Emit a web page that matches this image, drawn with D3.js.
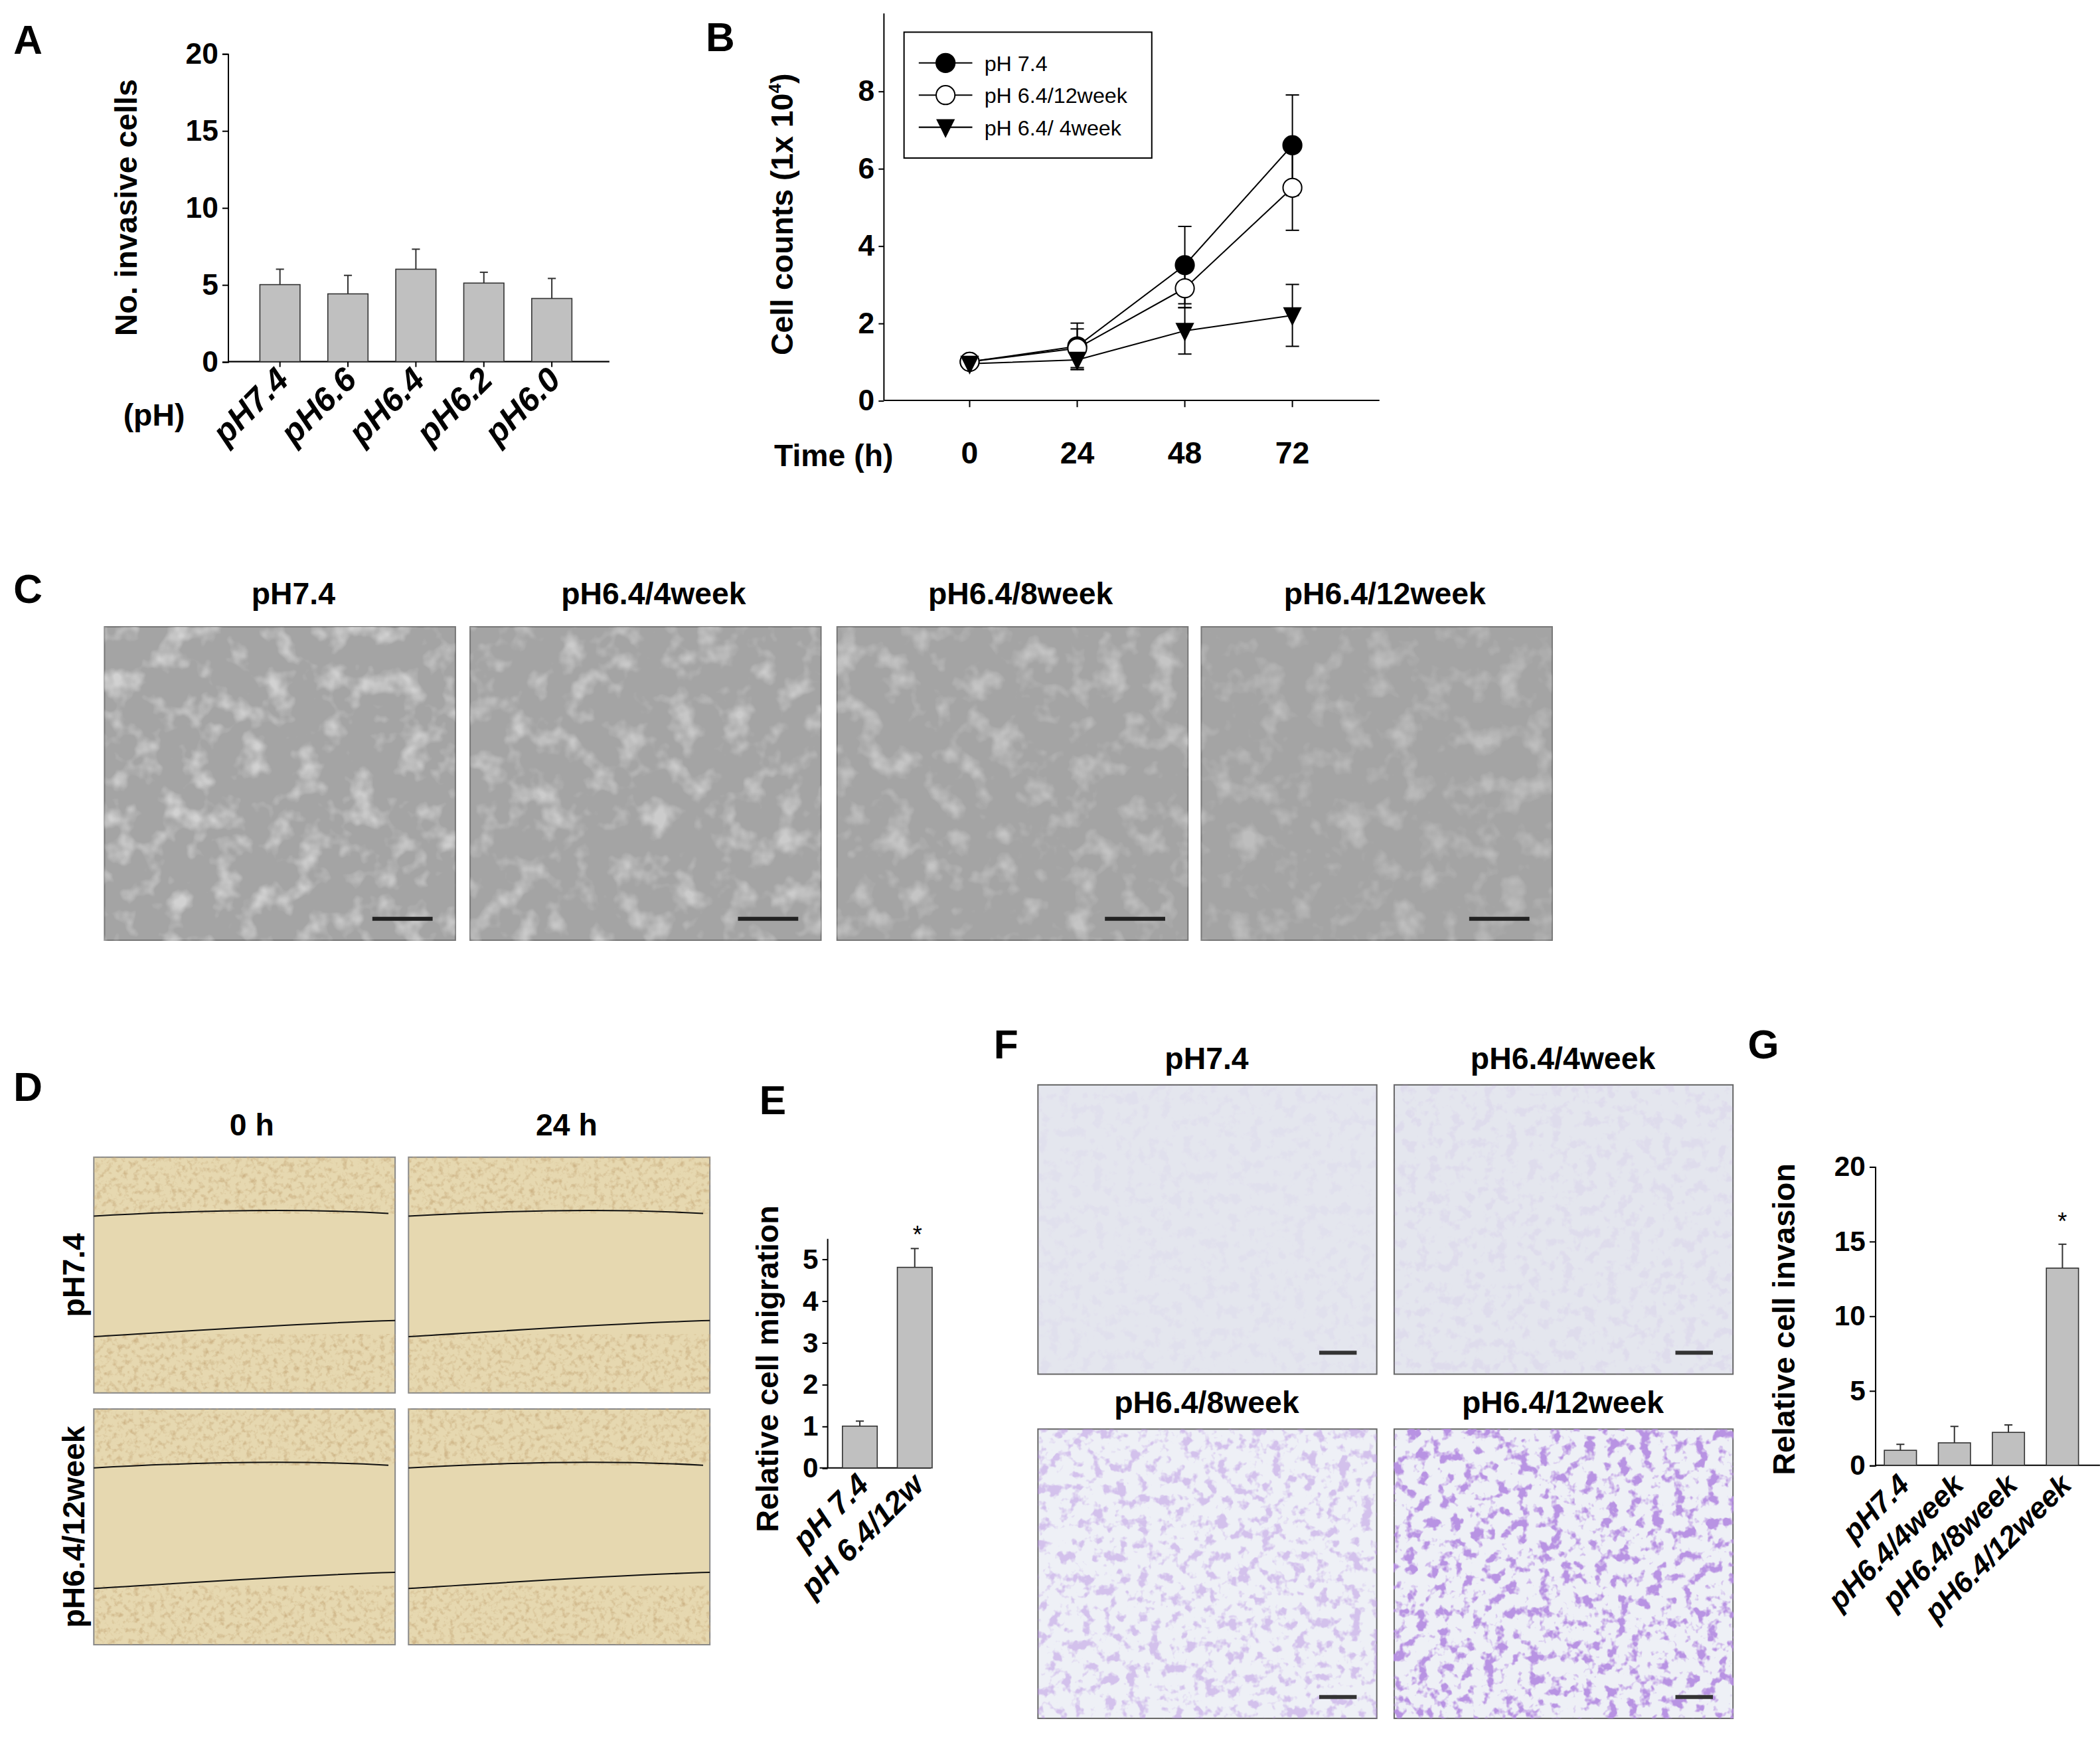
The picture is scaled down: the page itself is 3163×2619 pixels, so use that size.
<!DOCTYPE html>
<html><head><meta charset="utf-8">
<script src="https://cdn.jsdelivr.net/npm/d3@7"></script>
<style>body{margin:0;background:#fff}svg{display:block}text{font-family:"Liberation Sans",Arial,sans-serif}</style>
</head><body><script>
// Data
const aCats=["pH7.4","pH6.6","pH6.4","pH6.2","pH6.0"];
const aVals=[5.0,4.4,6.0,5.1,4.1];
const aErr=[1.0,1.2,1.3,0.7,1.3];
const aTicks=[0,5,10,15,20];
const bTimes=[0,24,48,72];
const bSeries=["pH 7.4","pH 6.4/12week","pH 6.4/ 4week"];
const b74=[1.0,1.4,3.5,6.6], b74e=[0.1,0.6,1.0,1.3];
const b12=[1.0,1.35,2.9,5.5], b12e=[0.1,0.5,0.5,1.1];
const b4=[0.95,1.05,1.8,2.2], b4e=[0.1,0.25,0.6,0.8];
const bTicks=[0,2,4,6,8];
const cTitles=["pH7.4","pH6.4/4week","pH6.4/8week","pH6.4/12week"];
const dCols=["0 h","24 h"], dRows=["pH7.4","pH6.4/12week"];
const eCats=["pH 7.4","pH 6.4/12w"], eVals=[1.0,4.8], eErr=[0.12,0.45], eTicks=[0,1,2,3,4,5];
const fTitles=["pH7.4","pH6.4/4week","pH6.4/8week","pH6.4/12week"];
const gCats=["pH7.4","pH6.4/4week","pH6.4/8week","pH6.4/12week"];
const gVals=[1.0,1.5,2.2,13.2], gErr=[0.4,1.1,0.5,1.6], gTicks=[0,5,10,15,20];

const svg=d3.select("body").append("svg").attr("width",3163).attr("height",2619).attr("viewBox","0 0 1568 1298.4");
const defs=svg.append("defs");
function noise(id,freq,seed,matrix){const f=defs.append("filter").attr("id",id).attr("x",0).attr("y",0).attr("width","100%").attr("height","100%");
 f.append("feTurbulence").attr("type","fractalNoise").attr("baseFrequency",freq).attr("numOctaves",3).attr("seed",seed);
 f.append("feColorMatrix").attr("type","matrix").attr("values",matrix);}
noise("nC",0.05,3,"0 0 0 0 0.95  0 0 0 0 0.95  0 0 0 0 0.95  0 0 0 -3 1.5");
noise("nD",0.25,5,"0 0 0 0 0.55  0 0 0 0 0.38  0 0 0 0 0.18  0 0 0 -2.5 1.3");
noise("nF",0.12,7,"0 0 0 0 0.45  0 0 0 0 0.25  0 0 0 0 0.75  0 0 0 -6 2.9");
const B="bold";
function label(t,x,y){svg.append("text").attr("x",x).attr("y",y).attr("font-size",30).attr("font-weight",B).text(t);}
function yAxis(g,y,ticks,x,fs){const ax=g.append("g").attr("transform",`translate(${x},0)`).call(d3.axisLeft(y).tickValues(ticks).tickSize(4).tickFormat(d3.format("d")));
 ax.selectAll("text").attr("font-size",fs).attr("font-weight",B).attr("font-family","Liberation Sans Narrow, Liberation Sans").attr("fill","#000");ax.select(".domain").attr("stroke","#000");ax.selectAll("line").attr("stroke","#000");return ax;}
function bars(g,x,y,cats,vals,errs,w){cats.forEach((c,i)=>{const cx=x(c);
 g.append("rect").attr("x",cx-w/2).attr("y",y(vals[i])).attr("width",w).attr("height",y(0)-y(vals[i])).attr("fill","#c0c0c0").attr("stroke","#333").attr("stroke-width",0.8);
 g.append("line").attr("x1",cx).attr("x2",cx).attr("y1",y(vals[i])).attr("y2",y(vals[i]+errs[i])).attr("stroke","#333");
 g.append("line").attr("x1",cx-3).attr("x2",cx+3).attr("y1",y(vals[i]+errs[i])).attr("y2",y(vals[i]+errs[i])).attr("stroke","#333");});}
function rotLabels(g,x,cats,y0,fs,italic){cats.forEach(c=>{g.append("text").attr("transform",`translate(${x(c)+8},${y0}) rotate(-45)`).attr("text-anchor","end").attr("font-size",fs).attr("font-weight",B).attr("font-style",italic?"italic":"normal").text(c);});}
function ylab(t,x,y,fs){svg.append("text").attr("transform",`translate(${x},${y}) rotate(-90)`).attr("text-anchor","middle").attr("font-size",fs).attr("font-weight",B).text(t);}

// Panel A
label("A",10,40);
{const g=svg.append("g");const y=d3.scaleLinear().domain([0,20]).range([270,40]);
 const x=d3.scalePoint().domain(aCats).range([209,412]);
 yAxis(g,y,aTicks,170,22);
 g.append("line").attr("x1",170).attr("x2",455).attr("y1",270).attr("y2",270).attr("stroke","#000");
 bars(g,x,y,aCats,aVals,aErr,30);
 aCats.forEach(c=>g.append("line").attr("x1",x(c)).attr("x2",x(c)).attr("y1",270).attr("y2",274).attr("stroke","#000"));
 rotLabels(g,x,aCats,285,25,true);
 g.append("text").attr("x",92).attr("y",318).attr("font-size",23).attr("font-weight",B).text("(pH)");
 ylab("No. invasive cells",102,155,23);}

// Panel B
label("B",527,38);
{const g=svg.append("g");const y=d3.scaleLinear().domain([0,8]).range([299,68]);
 const x=d3.scaleLinear().domain([0,72]).range([724,965]);
 g.append("line").attr("x1",660).attr("x2",660).attr("y1",10).attr("y2",299).attr("stroke","#000");
 yAxis(g,y,bTicks,660,22).select(".domain").remove();
 g.append("line").attr("x1",660).attr("x2",1030).attr("y1",299).attr("y2",299).attr("stroke","#000");
 bTimes.forEach(t=>{g.append("line").attr("x1",x(t)).attr("x2",x(t)).attr("y1",299).attr("y2",304).attr("stroke","#000");
  g.append("text").attr("x",x(t)).attr("y",346).attr("text-anchor","middle").attr("font-size",23).attr("font-weight",B).text(t);});
 g.append("text").attr("x",578).attr("y",348).attr("font-size",23).attr("font-weight",B).text("Time (h)");
 const series=[[b74,b74e,"filled"],[b12,b12e,"open"],[b4,b4e,"tri"]];
 const line=d3.line().x((d,i)=>x(bTimes[i])).y(d=>y(d));
 series.forEach(([v,e])=>{g.append("path").attr("d",line(v)).attr("fill","none").attr("stroke","#000").attr("stroke-width",1);
  v.forEach((d,i)=>{const cx=x(bTimes[i]);[d+e[i],d-e[i]].forEach(yy=>{g.append("line").attr("x1",cx).attr("x2",cx).attr("y1",y(d)).attr("y2",y(yy)).attr("stroke","#000");
   g.append("line").attr("x1",cx-5).attr("x2",cx+5).attr("y1",y(yy)).attr("y2",y(yy)).attr("stroke","#000");});});});
 function marker(sel,type,cx,cy){if(type==="tri")sel.append("path").attr("d",`M${cx-7},${cy-6}L${cx+7},${cy-6}L${cx},${cy+8}Z`).attr("fill","#000");
  else sel.append("circle").attr("cx",cx).attr("cy",cy).attr("r",7).attr("fill",type==="filled"?"#000":"#fff").attr("stroke","#000");}
 series.forEach(([v,,t])=>v.forEach((d,i)=>marker(g,t,x(bTimes[i]),y(d))));
 g.append("rect").attr("x",675).attr("y",24).attr("width",185).attr("height",94).attr("fill","#fff").attr("stroke","#000");
 bSeries.forEach((s,i)=>{const ly=47+i*24;g.append("line").attr("x1",686).attr("x2",726).attr("y1",ly).attr("y2",ly).attr("stroke","#000");
  marker(g,series[i][2],706,ly);g.append("text").attr("x",735).attr("y",ly+6).attr("font-size",16).attr("font-family","Liberation Sans Narrow, Liberation Sans").text(s);});
 const t=svg.append("text").attr("transform","translate(592,160) rotate(-90)").attr("text-anchor","middle").attr("font-size",23).attr("font-weight",B);
 t.append("tspan").text("Cell counts (1x 10");t.append("tspan").attr("font-size",13).attr("dy",-9).text("4");t.append("tspan").attr("dy",9).text(")");}

// Panel C
label("C",10,450);
{const xs=[78,351,625,897];xs.forEach((x0,i)=>{
 svg.append("rect").attr("x",x0).attr("y",468).attr("width",262).attr("height",234).attr("fill","#a4a4a4").attr("stroke","#777");
 svg.append("rect").attr("x",x0).attr("y",468).attr("width",262).attr("height",234).attr("filter","url(#nC)").attr("opacity",0.55-0.08*i);
 svg.append("line").attr("x1",x0+200).attr("x2",x0+245).attr("y1",686).attr("y2",686).attr("stroke","#222").attr("stroke-width",3);
 svg.append("text").attr("x",x0+131+(i?6:10)).attr("y",451).attr("text-anchor","middle").attr("font-size",23).attr("font-weight",B).text(cTitles[i]);});}

// Panel D
label("D",10,822);
{const xs=[70,305],ys=[864,1052];
 dCols.forEach((c,j)=>svg.append("text").attr("x",xs[j]+118).attr("y",848).attr("text-anchor","middle").attr("font-size",23).attr("font-weight",B).text(c));
 dRows.forEach((r,i)=>ylab(r,63,ys[i]+88,23));
 ys.forEach(y0=>xs.forEach(x0=>{svg.append("rect").attr("x",x0).attr("y",y0).attr("width",225).attr("height",176).attr("fill","#e6d8b0").attr("stroke","#888");
  svg.append("rect").attr("x",x0).attr("y",y0).attr("width",225).attr("height",42).attr("filter","url(#nD)").attr("opacity",0.7);
  svg.append("rect").attr("x",x0).attr("y",y0+132).attr("width",225).attr("height",44).attr("filter","url(#nD)").attr("opacity",0.7);
  svg.append("path").attr("d",`M${x0},${y0+44}C${x0+70},${y0+40} ${x0+150},${y0+38} ${x0+220},${y0+42}`).attr("fill","none").attr("stroke","#111");
  svg.append("path").attr("d",`M${x0},${y0+134}C${x0+70},${y0+130} ${x0+150},${y0+124} ${x0+225},${y0+122}`).attr("fill","none").attr("stroke","#111");}));}

// Panel E
label("E",567,832);
{const g=svg.append("g");const y=d3.scaleLinear().domain([0,5]).range([1096,940]);
 const x=d3.scalePoint().domain(eCats).range([642,683]);
 g.append("line").attr("x1",618).attr("x2",618).attr("y1",925).attr("y2",1096).attr("stroke","#000");
 yAxis(g,y,eTicks,618,21).select(".domain").remove();
 g.append("line").attr("x1",612).attr("x2",695).attr("y1",1096).attr("y2",1096).attr("stroke","#000");
 bars(g,x,y,eCats,eVals,eErr,26);
 g.append("text").attr("x",x(eCats[1])+2).attr("y",928).attr("text-anchor","middle").attr("font-size",18).text("*");
 rotLabels(g,x,eCats,1110,23,true);
 ylab("Relative cell migration",581,1022,23);}

// Panel F
label("F",742,790);
{const xs=[775,1041],ys=[810,1067];
 ys.forEach((y0,i)=>xs.forEach((x0,j)=>{const k=i*2+j;
  svg.append("rect").attr("x",x0).attr("y",y0).attr("width",253).attr("height",216).attr("fill",i? "#eef0f6":"#e4e6ee").attr("stroke","#666");
  svg.append("rect").attr("x",x0).attr("y",y0).attr("width",253).attr("height",216).attr("filter","url(#nF)").attr("opacity",[0.06,0.1,0.45,0.9][k]);
  svg.append("line").attr("x1",x0+210).attr("x2",x0+238).attr("y1",y0+200).attr("y2",y0+200).attr("stroke","#333").attr("stroke-width",3);
  svg.append("text").attr("x",x0+126).attr("y",y0-12).attr("text-anchor","middle").attr("font-size",23).attr("font-weight",B).text(fTitles[k]);}));}

// Panel G
label("G",1305,790);
{const g=svg.append("g");const y=d3.scaleLinear().domain([0,20]).range([1094,871]);
 const x=d3.scalePoint().domain(gCats).range([1419,1540]);
 yAxis(g,y,gTicks,1400,21);
 g.append("line").attr("x1",1400).attr("x2",1568).attr("y1",1094).attr("y2",1094).attr("stroke","#000");
 bars(g,x,y,gCats,gVals,gErr,24);
 g.append("text").attr("x",x(gCats[3])).attr("y",918).attr("text-anchor","middle").attr("font-size",18).text("*");
 rotLabels(g,x,gCats,1110,22,true);
 ylab("Relative cell invasion",1340,985,23);}
</script></body></html>
